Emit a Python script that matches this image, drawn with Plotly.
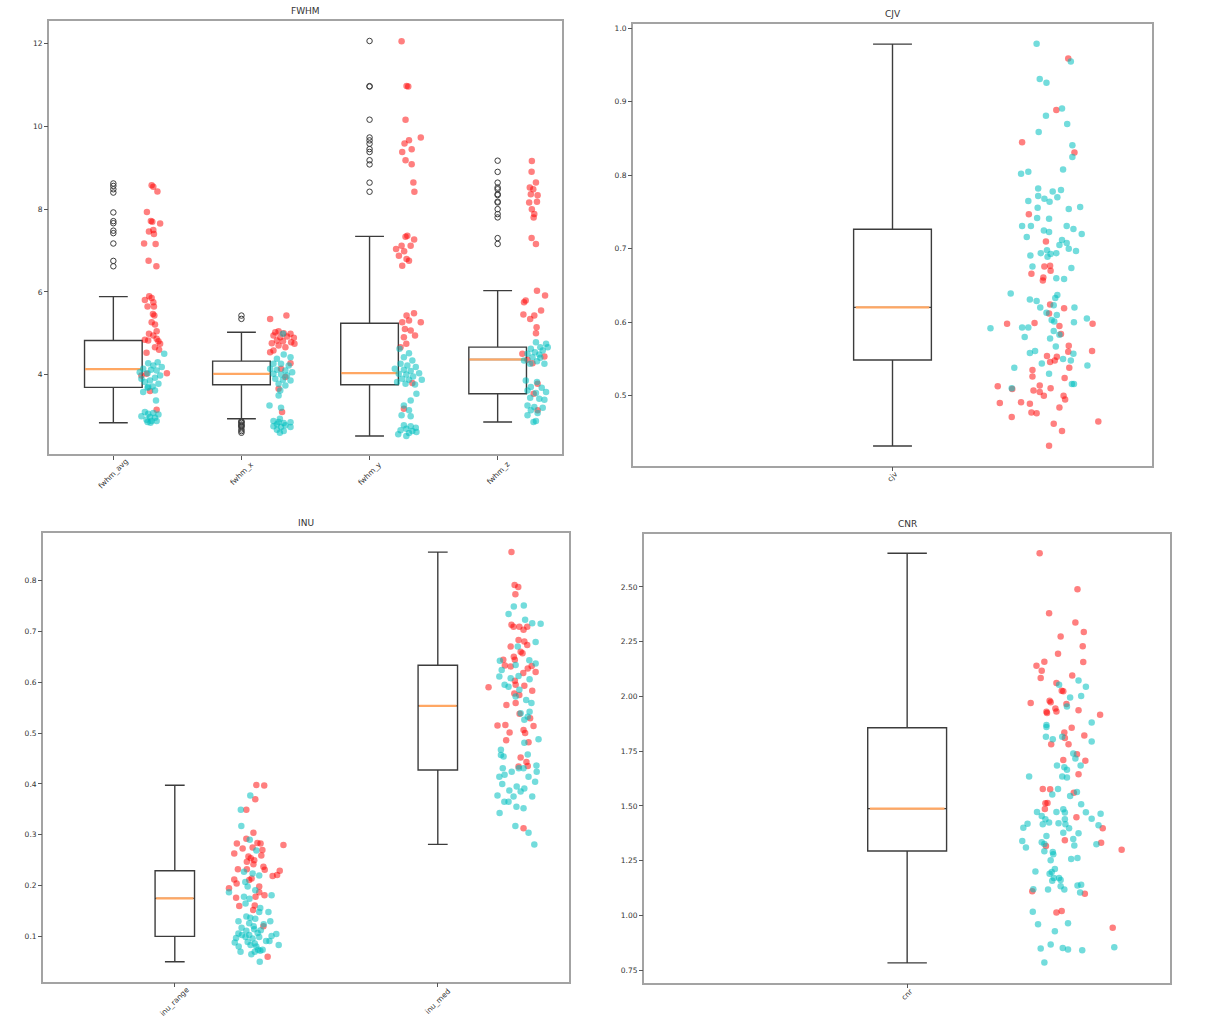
import plotly.graph_objects as go

# ---------------- data ----------------
fwhm_labels = ["fwhm_avg", "fwhm_x", "fwhm_y", "fwhm_z"]
fwhm_q1 = [3.695, 3.759, 3.759, 3.542]
fwhm_median = [4.137, 4.024, 4.040, 4.369]
fwhm_q3 = [4.827, 4.330, 5.245, 4.667]
fwhm_low = [2.843, 2.940, 2.522, 2.860]
fwhm_high = [5.888, 5.028, 7.341, 6.032]
fwhm_outliers = [
    [8.62, 8.56, 8.48, 8.40, 7.92, 7.71, 7.66, 7.48, 7.42, 7.17, 6.75, 6.62],
    [5.43, 5.35, 2.88, 2.86, 2.84, 2.80, 2.78, 2.76, 2.74, 2.68, 2.64, 2.60],
    [12.06, 10.97, 10.96, 10.16, 9.73, 9.66, 9.58, 9.45, 9.38, 9.18, 9.08, 8.64, 8.42],
    [9.17, 8.90, 8.64, 8.52, 8.48, 8.36, 8.34, 8.18, 8.16, 8.00, 7.88, 7.80, 7.30, 7.16],
]
fwhm_red = [
    (1.299, 8.578), (1.312, 8.538), (1.344, 8.426), (1.262, 7.928), (1.293, 7.711), (1.304, 7.695),
    (1.365, 7.655), (1.278, 7.462), (1.312, 7.494), (1.317, 7.398), (1.240, 7.173), (1.330, 7.157),
    (1.275, 6.755), (1.336, 6.618), (1.280, 5.896), (1.299, 5.856), (1.246, 5.807), (1.312, 5.751),
    (1.267, 5.647), (1.317, 5.647), (1.309, 5.470), (1.320, 5.430), (1.299, 5.269), (1.325, 5.213),
    (1.338, 5.052), (1.278, 4.988), (1.312, 4.948), (1.246, 4.843), (1.272, 4.827), (1.338, 4.868),
    (1.352, 4.811), (1.365, 4.747), (1.325, 4.667), (1.357, 4.603), (1.259, 4.530), (1.418, 4.040),
    (1.259, 4.024), (1.219, 3.984), (1.286, 3.606), (1.338, 3.157),
    (2.351, 5.430), (2.224, 5.350), (2.264, 5.028), (2.290, 5.052), (2.330, 5.004), (2.383, 4.988),
    (2.250, 4.948), (2.303, 4.908), (2.356, 4.924), (2.409, 4.892), (2.277, 4.827), (2.324, 4.811),
    (2.388, 4.787), (2.237, 4.763), (2.414, 4.747), (2.290, 4.707), (2.343, 4.667), (2.250, 4.587),
    (2.224, 4.546), (2.383, 4.281), (2.309, 4.145), (2.343, 3.944), (2.290, 3.663), (2.317, 3.101),
    (3.250, 12.056), (3.289, 10.972), (3.302, 10.964), (3.281, 10.161), (3.400, 9.727), (3.308, 9.663),
    (3.273, 9.583), (3.329, 9.446), (3.255, 9.382), (3.281, 9.181), (3.329, 9.084), (3.342, 8.643),
    (3.350, 8.418), (3.295, 7.357), (3.281, 7.333), (3.348, 7.269), (3.250, 7.116), (3.321, 7.116),
    (3.207, 7.036), (3.270, 6.980), (3.229, 6.876), (3.289, 6.795), (3.308, 6.755), (3.255, 6.635),
    (3.347, 5.486), (3.289, 5.430), (3.400, 5.269), (3.255, 5.269), (3.308, 5.309), (3.276, 5.108),
    (3.321, 5.068), (3.268, 4.908), (3.355, 4.948), (3.287, 4.747), (3.242, 4.667), (3.334, 3.799),
    (3.268, 3.181),
    (4.267, 9.165), (4.265, 8.900), (4.299, 8.643), (4.251, 8.522), (4.278, 8.482), (4.312, 8.337),
    (4.259, 8.362), (4.246, 8.161), (4.307, 8.177), (4.267, 7.997), (4.286, 7.880), (4.281, 7.799),
    (4.265, 7.301), (4.299, 7.157), (4.307, 6.032), (4.370, 5.912), (4.206, 5.751), (4.219, 5.791),
    (4.339, 5.550), (4.286, 5.430), (4.201, 5.454), (4.254, 5.350), (4.304, 5.149), (4.299, 5.004),
    (4.193, 4.506), (4.233, 4.362), (4.365, 4.442), (4.272, 4.281), (4.312, 3.783), (4.281, 3.542),
    (4.312, 3.141),
]
fwhm_cyan = [
    (1.397, 4.506), (1.346, 4.305), (1.272, 4.281), (1.312, 4.225), (1.378, 4.185), (1.233, 4.145),
    (1.294, 4.121), (1.338, 4.105), (1.206, 4.064), (1.267, 4.040), (1.365, 3.984), (1.219, 3.904),
    (1.325, 3.928), (1.286, 3.864), (1.246, 3.823), (1.352, 3.783), (1.307, 3.719), (1.267, 3.687),
    (1.325, 3.622), (1.233, 3.582), (1.333, 3.381), (1.272, 3.703), (1.246, 3.101), (1.272, 3.060),
    (1.312, 3.076), (1.352, 3.044), (1.219, 2.996), (1.286, 2.980), (1.325, 2.964), (1.259, 2.916),
    (1.338, 2.884), (1.299, 2.884), (1.267, 2.860), (1.290, 2.843),
    (2.324, 4.988), (2.330, 4.490), (2.277, 4.386), (2.383, 4.426), (2.250, 4.265), (2.309, 4.265),
    (2.369, 4.225), (2.224, 4.145), (2.277, 4.121), (2.343, 4.105), (2.396, 4.064), (2.250, 4.024),
    (2.309, 4.008), (2.356, 3.984), (2.264, 3.904), (2.324, 3.880), (2.383, 3.864), (2.290, 3.783),
    (2.343, 3.743), (2.303, 3.622), (2.290, 3.502), (2.219, 3.261), (2.309, 3.205), (2.300, 2.940),
    (2.250, 2.884), (2.290, 2.860), (2.330, 2.836), (2.383, 2.852), (2.277, 2.803), (2.343, 2.779),
    (2.250, 2.755), (2.309, 2.739), (2.383, 2.739), (2.277, 2.675), (2.330, 2.643), (2.300, 2.600),
    (3.234, 4.627), (3.308, 4.522), (3.268, 4.426), (3.334, 4.345), (3.242, 4.265), (3.295, 4.225),
    (3.361, 4.185), (3.197, 4.145), (3.268, 4.121), (3.321, 4.089), (3.387, 4.040), (3.228, 4.024),
    (3.287, 4.008), (3.340, 3.960), (3.255, 3.904), (3.308, 3.880), (3.408, 3.880), (3.215, 3.823),
    (3.281, 3.783), (3.355, 3.767), (3.366, 3.542), (3.321, 3.381), (3.268, 3.261), (3.308, 3.141),
    (3.250, 3.020), (3.321, 2.996), (3.268, 2.779), (3.321, 2.755), (3.361, 2.723), (3.287, 2.699),
    (3.242, 2.659), (3.334, 2.643), (3.308, 2.595), (3.224, 2.563), (3.366, 2.619), (3.287, 2.522),
    (4.299, 4.787), (4.378, 4.747), (4.333, 4.667), (4.259, 4.627), (4.352, 4.586), (4.291, 4.546),
    (4.233, 4.506), (4.325, 4.490), (4.391, 4.667), (4.272, 4.426), (4.206, 4.345), (4.307, 4.329),
    (4.365, 4.265), (4.333, 4.410), (4.254, 4.265), (4.220, 3.864), (4.307, 3.823), (4.259, 3.703),
    (4.344, 3.687), (4.233, 3.622), (4.378, 3.582), (4.299, 3.558), (4.254, 3.446), (4.325, 3.422),
    (4.365, 3.398), (4.233, 3.261), (4.286, 3.221), (4.352, 3.205), (4.259, 3.141), (4.312, 3.076),
    (4.233, 3.020), (4.299, 2.884), (4.280, 2.860),
]

cjv_labels = ["cjv"]
cjv_q1, cjv_median, cjv_q3, cjv_low, cjv_high = [0.5486], [0.6203], [0.7265], [0.4316], [0.9786]
cjv_red = [
    (1.339, 0.959), (1.316, 0.889), (1.250, 0.845), (1.351, 0.831), (1.263, 0.747), (1.296, 0.710),
    (1.293, 0.676), (1.304, 0.677), (1.305, 0.670), (1.268, 0.666), (1.291, 0.661), (1.290, 0.657),
    (1.304, 0.624), (1.302, 0.612), (1.331, 0.619), (1.221, 0.598), (1.274, 0.599), (1.322, 0.595),
    (1.386, 0.598), (1.325, 0.584), (1.340, 0.568), (1.339, 0.560), (1.385, 0.561), (1.298, 0.554),
    (1.317, 0.553), (1.304, 0.546), (1.313, 0.548), (1.341, 0.538), (1.270, 0.535), (1.270, 0.526),
    (1.332, 0.524), (1.203, 0.513), (1.284, 0.514), (1.231, 0.509), (1.272, 0.507), (1.284, 0.505),
    (1.305, 0.510), (1.292, 0.500), (1.330, 0.500), (1.333, 0.495), (1.207, 0.490), (1.248, 0.491),
    (1.265, 0.489), (1.322, 0.484), (1.268, 0.477), (1.278, 0.476), (1.230, 0.471), (1.311, 0.462),
    (1.327, 0.452), (1.397, 0.465), (1.302, 0.432),
]
cjv_cyan = [
    (1.278, 0.979), (1.344, 0.955), (1.284, 0.931), (1.297, 0.926), (1.327, 0.891), (1.296, 0.881),
    (1.337, 0.870), (1.282, 0.859), (1.347, 0.841), (1.347, 0.825), (1.329, 0.808), (1.248, 0.802),
    (1.262, 0.805), (1.281, 0.782), (1.309, 0.778), (1.325, 0.780), (1.262, 0.765), (1.281, 0.772),
    (1.293, 0.768), (1.303, 0.764), (1.318, 0.770), (1.280, 0.756), (1.340, 0.754), (1.362, 0.757),
    (1.279, 0.742), (1.302, 0.741), (1.250, 0.731), (1.267, 0.731), (1.336, 0.731), (1.349, 0.727),
    (1.292, 0.725), (1.302, 0.723), (1.365, 0.720), (1.259, 0.716), (1.327, 0.712), (1.322, 0.705),
    (1.336, 0.708), (1.340, 0.700), (1.354, 0.697), (1.298, 0.698), (1.286, 0.694), (1.305, 0.693),
    (1.316, 0.694), (1.266, 0.691), (1.299, 0.689), (1.270, 0.676), (1.345, 0.674), (1.316, 0.660),
    (1.331, 0.659), (1.228, 0.639), (1.318, 0.637), (1.314, 0.633), (1.265, 0.631), (1.278, 0.629),
    (1.285, 0.620), (1.311, 0.623), (1.351, 0.620), (1.297, 0.613), (1.317, 0.610), (1.375, 0.605),
    (1.307, 0.603), (1.312, 0.601), (1.350, 0.600), (1.189, 0.592), (1.250, 0.593), (1.262, 0.593),
    (1.255, 0.580), (1.311, 0.588), (1.322, 0.583), (1.304, 0.578), (1.315, 0.567), (1.265, 0.558),
    (1.275, 0.561), (1.349, 0.557), (1.329, 0.550), (1.344, 0.548), (1.288, 0.544), (1.376, 0.541),
    (1.235, 0.538), (1.302, 0.530), (1.346, 0.516), (1.350, 0.516), (1.230, 0.510),
]

inu_labels = ["inu_range", "inu_med"]
inu_q1, inu_median, inu_q3 = [0.1001, 0.4274], [0.1749, 0.5534], [0.2293, 0.6334]
inu_low, inu_high = [0.0502, 0.2811], [0.3972, 0.8558]
inu_red = [
    (1.310, 0.398), (1.340, 0.397), (1.306, 0.370), (1.272, 0.349), (1.299, 0.304), (1.236, 0.283),
    (1.272, 0.292), (1.314, 0.284), (1.326, 0.283), (1.413, 0.280), (1.258, 0.273), (1.226, 0.263),
    (1.296, 0.275), (1.333, 0.270), (1.329, 0.259), (1.280, 0.257), (1.289, 0.254), (1.302, 0.250),
    (1.274, 0.247), (1.299, 0.242), (1.240, 0.232), (1.274, 0.232), (1.337, 0.237), (1.342, 0.231),
    (1.399, 0.229), (1.372, 0.219), (1.389, 0.221), (1.226, 0.212), (1.235, 0.204), (1.283, 0.211),
    (1.292, 0.214), (1.206, 0.195), (1.321, 0.198), (1.321, 0.187), (1.233, 0.176), (1.307, 0.178),
    (1.341, 0.181), (1.245, 0.160), (1.304, 0.161), (1.298, 0.152), (1.337, 0.120), (1.353, 0.060),
    (2.280, 0.856), (2.292, 0.791), (2.306, 0.787), (2.295, 0.773), (2.280, 0.713), (2.288, 0.709),
    (2.310, 0.709), (2.326, 0.703), (2.340, 0.709), (2.307, 0.683), (2.329, 0.680), (2.340, 0.673),
    (2.277, 0.670), (2.315, 0.660), (2.322, 0.657), (2.249, 0.644), (2.289, 0.650), (2.293, 0.644),
    (2.255, 0.633), (2.277, 0.631), (2.342, 0.627), (2.372, 0.620), (2.357, 0.632), (2.325, 0.618),
    (2.293, 0.603), (2.296, 0.595), (2.329, 0.593), (2.193, 0.590), (2.359, 0.583), (2.291, 0.578),
    (2.310, 0.575), (2.296, 0.559), (2.261, 0.555), (2.227, 0.515), (2.257, 0.516), (2.364, 0.514),
    (2.326, 0.506), (2.273, 0.501), (2.332, 0.500), (2.260, 0.486), (2.345, 0.482), (2.315, 0.452),
    (2.337, 0.443), (2.307, 0.434), (2.342, 0.435), (2.326, 0.313), (2.351, 0.529), (2.311, 0.538),
]
inu_cyan = [
    (1.287, 0.377), (1.251, 0.349), (1.253, 0.317), (1.285, 0.290), (1.310, 0.269), (1.263, 0.227),
    (1.296, 0.224), (1.321, 0.220), (1.268, 0.207), (1.277, 0.198), (1.306, 0.191), (1.206, 0.187),
    (1.263, 0.178), (1.284, 0.174), (1.368, 0.181), (1.269, 0.165), (1.325, 0.156), (1.272, 0.139),
    (1.287, 0.137), (1.306, 0.135), (1.321, 0.148), (1.356, 0.148), (1.242, 0.130), (1.283, 0.126),
    (1.300, 0.120), (1.363, 0.130), (1.338, 0.124), (1.254, 0.117), (1.272, 0.111), (1.302, 0.114),
    (1.327, 0.112), (1.242, 0.106), (1.255, 0.103), (1.283, 0.103), (1.315, 0.107), (1.233, 0.097),
    (1.269, 0.099), (1.296, 0.096), (1.321, 0.099), (1.386, 0.105), (1.368, 0.101), (1.228, 0.088),
    (1.277, 0.089), (1.304, 0.086), (1.347, 0.091), (1.360, 0.091), (1.243, 0.080), (1.288, 0.083),
    (1.310, 0.080), (1.317, 0.074), (1.325, 0.072), (1.395, 0.083), (1.250, 0.070), (1.291, 0.065),
    (1.304, 0.070), (1.334, 0.074), (1.323, 0.050),
    (2.367, 0.281), (2.345, 0.304), (2.295, 0.317), (2.326, 0.352), (2.299, 0.355), (2.235, 0.343),
    (2.253, 0.365), (2.227, 0.377), (2.269, 0.365), (2.288, 0.375), (2.315, 0.385), (2.329, 0.391),
    (2.359, 0.375), (2.300, 0.395), (2.272, 0.387), (2.245, 0.400), (2.234, 0.414), (2.254, 0.418),
    (2.281, 0.424), (2.247, 0.431), (2.345, 0.414), (2.370, 0.404), (2.376, 0.424), (2.375, 0.436),
    (2.308, 0.431), (2.326, 0.431), (2.240, 0.467), (2.240, 0.457), (2.250, 0.454), (2.342, 0.458),
    (2.383, 0.488), (2.329, 0.481), (2.342, 0.532), (2.315, 0.539), (2.329, 0.526), (2.349, 0.542),
    (2.356, 0.559), (2.336, 0.565), (2.296, 0.572), (2.310, 0.585), (2.349, 0.606), (2.307, 0.612),
    (2.277, 0.608), (2.269, 0.591), (2.254, 0.595), (2.234, 0.611), (2.243, 0.624), (2.236, 0.642),
    (2.296, 0.634), (2.348, 0.643), (2.372, 0.637), (2.304, 0.670), (2.372, 0.679), (2.332, 0.723),
    (2.359, 0.716), (2.391, 0.715), (2.269, 0.734), (2.289, 0.749), (2.327, 0.751),
]

cnr_labels = ["cnr"]
cnr_q1, cnr_median, cnr_q3, cnr_low, cnr_high = [1.2942], [1.4878], [1.8568], [0.7836], [2.654]
cnr_red = [
    (1.252, 2.654), (1.324, 2.489), (1.270, 2.380), (1.320, 2.338), (1.336, 2.294), (1.292, 2.274),
    (1.334, 2.229), (1.287, 2.195), (1.261, 2.159), (1.335, 2.157), (1.246, 2.140), (1.256, 2.117),
    (1.314, 2.096), (1.254, 2.084), (1.284, 2.061), (1.294, 2.026), (1.297, 2.024), (1.235, 1.970),
    (1.271, 1.980), (1.273, 1.974), (1.303, 1.965), (1.282, 1.945), (1.284, 1.931), (1.265, 1.930),
    (1.266, 1.924), (1.326, 1.937), (1.367, 1.916), (1.313, 1.857), (1.299, 1.835), (1.300, 1.810),
    (1.337, 1.822), (1.274, 1.782), (1.307, 1.782), (1.323, 1.736), (1.297, 1.710), (1.339, 1.707),
    (1.326, 1.645), (1.258, 1.578), (1.272, 1.576), (1.317, 1.560), (1.263, 1.512), (1.267, 1.514),
    (1.262, 1.486), (1.322, 1.448), (1.372, 1.398), (1.300, 1.343), (1.369, 1.332), (1.264, 1.317),
    (1.408, 1.300), (1.238, 1.111), (1.338, 1.099), (1.284, 1.014), (1.294, 1.020), (1.391, 0.944),
]
cnr_cyan = [
    (1.289, 2.053), (1.326, 2.073), (1.340, 2.044), (1.310, 1.995), (1.331, 2.002), (1.304, 1.954),
    (1.351, 1.881), (1.265, 1.870), (1.265, 1.860), (1.264, 1.816), (1.277, 1.805), (1.295, 1.816),
    (1.351, 1.794), (1.316, 1.740), (1.320, 1.717), (1.285, 1.685), (1.299, 1.677), (1.304, 1.665),
    (1.330, 1.685), (1.232, 1.634), (1.295, 1.634), (1.304, 1.630), (1.287, 1.578), (1.276, 1.552),
    (1.323, 1.564), (1.310, 1.546), (1.331, 1.508), (1.247, 1.473), (1.284, 1.473), (1.297, 1.485),
    (1.300, 1.470), (1.340, 1.471), (1.368, 1.465), (1.256, 1.454), (1.263, 1.439), (1.300, 1.439),
    (1.351, 1.442), (1.229, 1.419), (1.258, 1.416), (1.270, 1.424), (1.288, 1.421), (1.301, 1.416),
    (1.364, 1.412), (1.221, 1.401), (1.308, 1.398), (1.297, 1.378), (1.326, 1.375), (1.265, 1.363),
    (1.316, 1.349), (1.219, 1.340), (1.256, 1.334), (1.261, 1.326), (1.318, 1.320), (1.360, 1.325),
    (1.226, 1.310), (1.277, 1.290), (1.261, 1.293), (1.278, 1.279), (1.273, 1.252), (1.312, 1.258),
    (1.324, 1.262), (1.244, 1.201), (1.281, 1.212), (1.275, 1.198), (1.271, 1.191), (1.279, 1.171),
    (1.289, 1.171), (1.292, 1.162), (1.276, 1.158), (1.292, 1.134), (1.240, 1.120), (1.268, 1.119),
    (1.299, 1.119), (1.324, 1.137), (1.331, 1.140), (1.329, 1.105), (1.239, 1.017), (1.249, 0.960),
    (1.306, 0.965), (1.281, 0.928), (1.254, 0.849), (1.273, 0.867), (1.296, 0.852), (1.306, 0.845),
    (1.333, 0.841), (1.394, 0.855), (1.261, 0.785),
]

# ---------------- figure ----------------
W, H = 1231, 1032
BOX_LINE = "#3c3c3c"
MEDIAN = "#ffa763"
RED = "rgba(255,0,0,0.5)"
CYAN = "rgba(0,191,191,0.55)"

panels = [
    dict(title="FWHM", labels=fwhm_labels, q1=fwhm_q1, med=fwhm_median, q3=fwhm_q3,
         lo=fwhm_low, hi=fwhm_high, outliers=fwhm_outliers, red=fwhm_red, cyan=fwhm_cyan,
         width=0.45, px=(49.3, 561.7), py=(20.7, 454.3), yr=[2.08, 12.55],
         ytv=[4, 6, 8, 10, 12], ytt=["4", "6", "8", "10", "12"], lab_dy=19),
    dict(title="CJV", labels=cjv_labels, q1=cjv_q1, med=cjv_median, q3=cjv_q3,
         lo=cjv_low, hi=cjv_high, outliers=[[]], red=cjv_red, cyan=cjv_cyan,
         width=0.15, px=(633.3, 1151.7), py=(24.0, 465.5), yr=[0.405, 1.006],
         ytv=[0.5, 0.6, 0.7, 0.8, 0.9, 1.0], ytt=["0.5", "0.6", "0.7", "0.8", "0.9", "1.0"], lab_dy=11),
    dict(title="INU", labels=inu_labels, q1=inu_q1, med=inu_median, q3=inu_q3,
         lo=inu_low, hi=inu_high, outliers=[[], []], red=inu_red, cyan=inu_cyan,
         width=0.15, px=(43.3, 569.3), py=(532.7, 981.7), yr=[0.011, 0.894],
         ytv=[0.1, 0.2, 0.3, 0.4, 0.5, 0.6, 0.7, 0.8],
         ytt=["0.1", "0.2", "0.3", "0.4", "0.5", "0.6", "0.7", "0.8"], lab_dy=20),
    dict(title="CNR", labels=cnr_labels, q1=cnr_q1, med=cnr_median, q3=cnr_q3,
         lo=cnr_low, hi=cnr_high, outliers=[[]], red=cnr_red, cyan=cnr_cyan,
         width=0.15, px=(644.3, 1170.0), py=(533.5, 982.5), yr=[0.694, 2.744],
         ytv=[0.75, 1.0, 1.25, 1.5, 1.75, 2.0, 2.25, 2.5],
         ytt=["0.75", "1.00", "1.25", "1.50", "1.75", "2.00", "2.25", "2.50"], lab_dy=12),
]

fig = go.Figure()
annotations = []
layout_axes = {}

for i, p in enumerate(panels):
    n = i + 1
    xa = "x" if n == 1 else f"x{n}"
    ya = "y" if n == 1 else f"y{n}"
    positions = list(range(1, len(p["labels"]) + 1))
    w = p["width"]

    fig.add_trace(go.Box(
        x=positions, q1=p["q1"], median=p["med"], q3=p["q3"],
        lowerfence=p["lo"], upperfence=p["hi"], width=w, whiskerwidth=0.5,
        line=dict(color=BOX_LINE, width=1.4), fillcolor="rgba(255,255,255,0)",
        boxpoints=False, showlegend=False, hoverinfo="skip", xaxis=xa, yaxis=ya))

    mx, my = [], []
    for pos, m in zip(positions, p["med"]):
        mx += [pos - w / 2 + 0.004, pos + w / 2 - 0.004, None]
        my += [m, m, None]
    fig.add_trace(go.Scatter(x=mx, y=my, mode="lines", line=dict(color=MEDIAN, width=2.2),
                             showlegend=False, hoverinfo="skip", xaxis=xa, yaxis=ya))

    ox, oy = [], []
    for pos, outs in zip(positions, p["outliers"]):
        ox += [pos] * len(outs)
        oy += outs
    if ox:
        fig.add_trace(go.Scatter(x=ox, y=oy, mode="markers",
                                 marker=dict(symbol="circle-open", size=5.5, color="#3c3c3c",
                                             line=dict(width=1)),
                                 showlegend=False, hoverinfo="skip", xaxis=xa, yaxis=ya))

    for pts, col in ((p["red"], RED), (p["cyan"], CYAN)):
        fig.add_trace(go.Scatter(x=[a for a, b in pts], y=[b for a, b in pts], mode="markers",
                                 marker=dict(size=6.5, color=col, line=dict(width=0)),
                                 showlegend=False, hoverinfo="skip", xaxis=xa, yaxis=ya))

    x0, x1 = p["px"]
    y0, y1 = p["py"]
    common = dict(showgrid=False, zeroline=False, showline=True, mirror=True,
                  linecolor="#a3a3a3", linewidth=1.5, ticks="outside", ticklen=3.5,
                  tickcolor="#555555", tickwidth=1)
    layout_axes["xaxis" if n == 1 else f"xaxis{n}"] = dict(
        domain=[x0 / W, x1 / W], range=[0.5, len(positions) + 0.5], anchor=ya,
        tickvals=positions, showticklabels=False, **common)
    layout_axes["yaxis" if n == 1 else f"yaxis{n}"] = dict(
        domain=[1 - y1 / H, 1 - y0 / H], range=p["yr"], anchor=xa,
        tickvals=p["ytv"], ticktext=p["ytt"],
        tickfont=dict(size=7.5, color="#333333", family="DejaVu Sans"), **common)

    annotations.append(dict(text=p["title"], x=(x0 + x1) / 2 / W, y=1 - (y0 - 3) / H,
                            xref="paper", yref="paper", xanchor="center", yanchor="bottom",
                            showarrow=False, font=dict(size=9, color="#333333", family="DejaVu Sans")))
    for pos, lab in zip(positions, p["labels"]):
        annotations.append(dict(text=lab, x=pos, xref=xa, y=1 - (y1 + p["lab_dy"]) / H, yref="paper",
                                xanchor="center", yanchor="middle", textangle=-45, showarrow=False,
                                font=dict(size=7.5, color="#333333", family="DejaVu Sans")))

fig.update_layout(
    width=W, height=H, margin=dict(l=0, r=0, t=0, b=0),
    paper_bgcolor="white", plot_bgcolor="white", showlegend=False,
    annotations=annotations, **layout_axes)

fig.write_html("out.html")
